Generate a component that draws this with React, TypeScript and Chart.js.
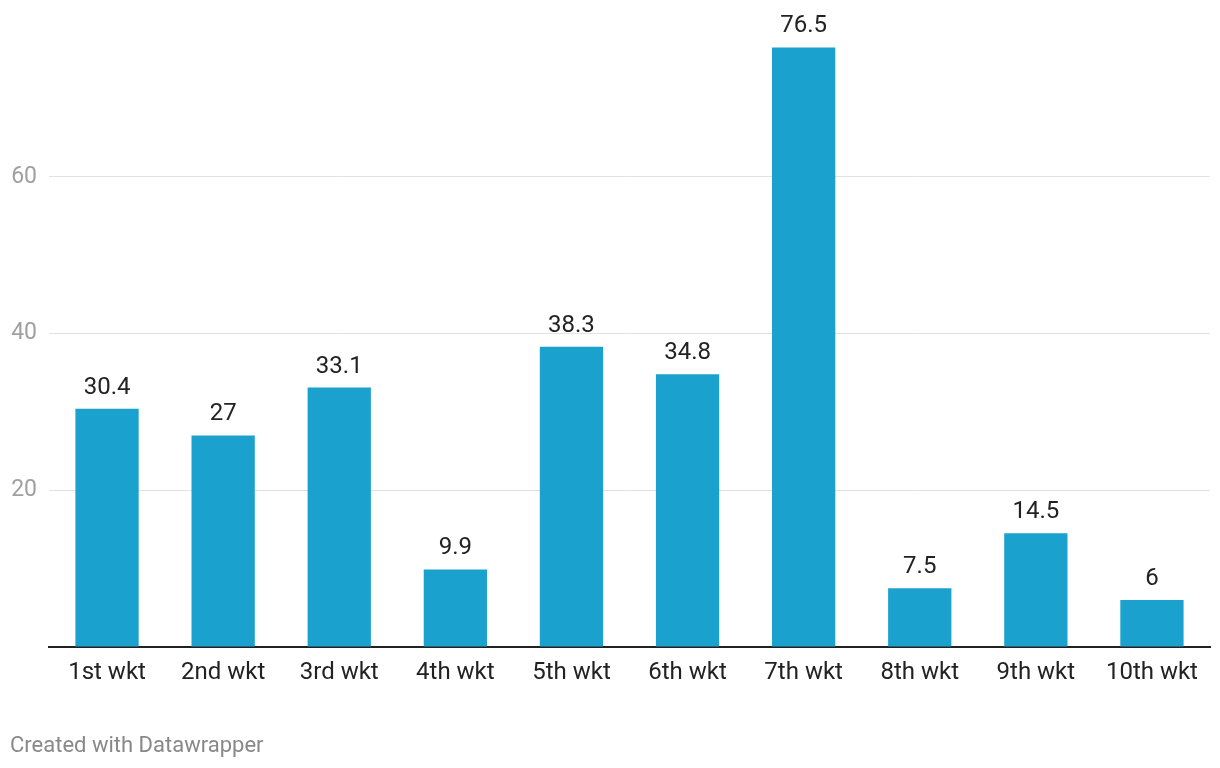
import React, { useEffect, useRef } from "react";
import { Chart, registerables } from "chart.js";

Chart.register(...registerables);

const categories = ["1st wkt", "2nd wkt", "3rd wkt", "4th wkt", "5th wkt", "6th wkt", "7th wkt", "8th wkt", "9th wkt", "10th wkt"];
const values = [30.4, 27, 33.1, 9.9, 38.3, 34.8, 76.5, 7.5, 14.5, 6];
const yTicks = [20, 40, 60];

const FONT = "Roboto, 'Noto Sans', sans-serif";

const valueLabels = {
  id: "valueLabels",
  afterDatasetsDraw(chart: any) {
    const ctx = chart.ctx;
    const meta = chart.getDatasetMeta(0);
    ctx.save();
    ctx.font = `24px ${FONT}`;
    ctx.fillStyle = "#222222";
    ctx.textAlign = "center";
    ctx.textBaseline = "bottom";
    meta.data.forEach((bar: any, i: number) => {
      ctx.fillText(String(values[i]), bar.x, bar.y - 9);
    });
    ctx.restore();
  },
};

export default function App() {
  const ref = useRef<HTMLCanvasElement | null>(null);
  useEffect(() => {
    if (!ref.current) return;
    const chart = new Chart(ref.current, {
      type: "bar",
      data: {
        labels: categories,
        datasets: [
          {
            data: values,
            backgroundColor: "#1aa1cd",
            barPercentage: 0.545,
            categoryPercentage: 1,
          },
        ],
      },
      options: {
        animation: false,
        responsive: false,
        layout: { padding: { top: 20, right: 10, left: 0, bottom: 0 } },
        plugins: { legend: { display: false }, tooltip: { enabled: false } },
        scales: {
          x: {
            afterFit: (s: any) => { s.height = 121; s.paddingLeft = 0; s.paddingRight = 0; },
            grid: { display: false, drawTicks: false },
            border: { display: true, color: "#222222", width: 2 },
            ticks: { color: "#222222", font: { family: FONT, size: 24 }, padding: 12, maxRotation: 0 },
          },
          y: {
            min: 0,
            max: 80,
            afterFit: (s: any) => { s.width = 49; s.paddingTop = 0; s.paddingBottom = 0; },
            afterBuildTicks: (s: any) => { s.ticks = [0, ...yTicks, 80].map((v) => ({ value: v })); },
            grid: {
              drawTicks: false,
              color: (c: any) => (yTicks.includes(c.tick?.value) ? "#e2e2e2" : "rgba(0,0,0,0)"),
              lineWidth: 1,
            },
            border: { display: false },
            ticks: {
              color: "#a0a0a0",
              font: { family: FONT, size: 23 },
              padding: 12,
              callback: (v: any) => (yTicks.includes(Number(v)) ? String(v) : ""),
            },
          },
        },
      },
      plugins: [valueLabels],
    });
    return () => chart.destroy();
  }, []);
  return (
    <div style={{ position: "fixed", left: 0, top: 0, width: 1220, height: 768, background: "#fff" }}>
      <canvas ref={ref} width={1220} height={768} style={{ position: "absolute", left: 0, top: 0 }} />
      <div
        style={{
          position: "absolute",
          left: 10,
          top: 732,
          fontFamily: FONT,
          fontSize: 22,
          color: "#888888",
          whiteSpace: "nowrap",
        }}
      >
        Created with Datawrapper
      </div>
    </div>
  );
}
